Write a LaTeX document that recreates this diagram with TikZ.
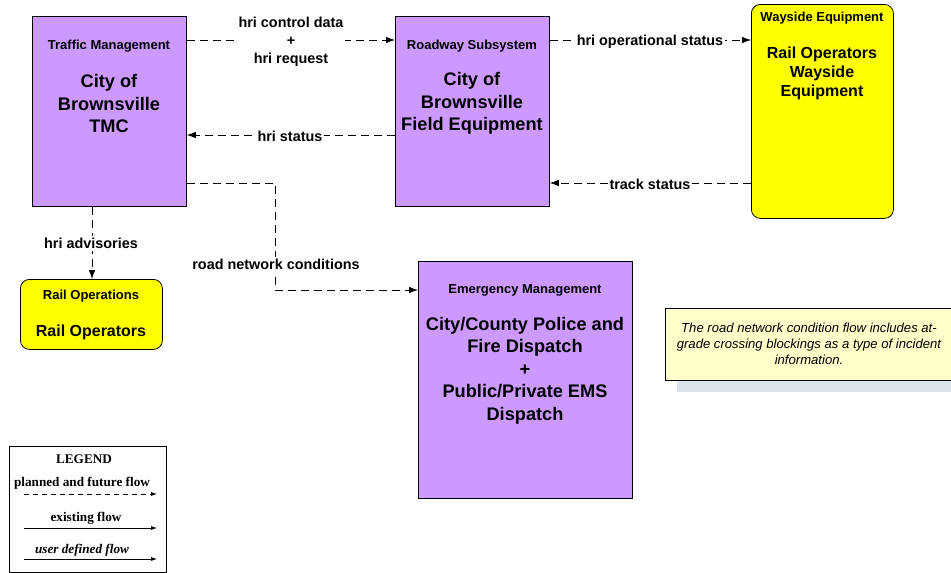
\documentclass[tikz,border=0pt]{standalone}
\usepackage{fontspec}
\setmainfont{Liberation Sans}
\newfontfamily\legendfont{Liberation Serif}
\usetikzlibrary{arrows.meta,calc}
\definecolor{boxpurple}{HTML}{CC99FF}
\definecolor{boxyellow}{HTML}{FFFF00}
\definecolor{notefill}{HTML}{FFFFCC}
\definecolor{noteshadow}{HTML}{DCE3EA}
\begin{document}
\begin{tikzpicture}[x=1pt,y=-1pt,
  sqbox/.style={draw=black, line width=0.8pt, fill=boxpurple, anchor=north west, inner sep=0pt},
  rbox/.style={draw=black, line width=0.8pt, fill=boxyellow, anchor=north west, inner sep=0pt, rounded corners=9pt},
  ttl/.style={font=\fontsize{13}{15}\selectfont\bfseries, inner sep=0pt, yshift=-1.5pt},
  bigtxt/.style={font=\fontsize{18.2}{22.5}\selectfont\bfseries, align=center, inner sep=0pt, yshift=-1.5pt},
  midtxt/.style={font=\fontsize{16}{19}\selectfont\bfseries, align=center, inner sep=0pt, yshift=-1.5pt},
  flowlbl/.style={font=\fontsize{14.4}{18}\selectfont\bfseries, fill=white, inner sep=2pt, align=center, yshift=-1.5pt},
  flow/.style={line width=0.8pt, dash pattern=on 8pt off 5pt, -{Latex[length=9pt,width=6.5pt]}},
  legtxt/.style={font=\legendfont\fontsize{13.2}{15}\selectfont\bfseries, inner sep=0pt},
  legarrow/.style={line width=0.7pt, -{Latex[length=6pt,width=4pt]}}
]
\useasboundingbox (0,0) rectangle (951,573);

% boxes
\node[sqbox, minimum width=154pt, minimum height=190pt] (tmc) at (32,16) {};
\node[sqbox, minimum width=154pt, minimum height=190pt] (rs) at (395,16) {};
\node[rbox, minimum width=142pt, minimum height=214pt] (ws) at (751,4) {};
\node[rbox, minimum width=142pt, minimum height=70pt] (ro) at (20,279) {};
\node[sqbox, minimum width=214pt, minimum height=237pt] (em) at (418,261) {};

% texts in boxes
\node[ttl] (tmcT) at (109,45) {Traffic Management};
\node[bigtxt] (tmcM) at (109,102) {City of\\Brownsville\\TMC};
\node[ttl] (rsT) at (472,45) {Roadway Subsystem};
\node[bigtxt] (rsM) at (472,102) {City of\\Brownsville\\Field Equipment};
\node[ttl] (wsT) at (822,17) {Wayside Equipment};
\node[midtxt] (wsM) at (822,72) {Rail Operators\\Wayside\\Equipment};
\node[ttl] (roT) at (91,295) {Rail Operations};
\node[midtxt] (roM) at (91,331) {Rail Operators};
\node[ttl] (emT) at (525,289) {Emergency Management};
\node[bigtxt] (emM) at (525,369) {City/County Police and\\Fire Dispatch\\+\\Public/Private EMS\\Dispatch};

% connectors
\coordinate (c1) at (275,183);
\coordinate (c2) at (275,290);
\draw[flow] (tmc.east |- 0,40) -- (rs.west |- 0,40);
\node[flowlbl] (l1) at (291,40) {hri control data\\+\\hri request};
\draw[flow] (rs.west |- 0,135) -- (tmc.east |- 0,135);
\node[flowlbl] (l2) at (290,135) {hri status};
\draw[flow] (rs.east |- 0,40) -- (ws.west |- 0,40);
\node[flowlbl] (l3) at (650,40) {hri operational status};
\draw[flow] (ws.west |- 0,183) -- (rs.east |- 0,183);
\node[flowlbl] (l4) at (650,183) {track status};
\draw[flow] (tmc.east |- c1) -- (c1) -- (c2) -- (em.west |- c2);
\node[flowlbl] (l5) at (276,263) {road network conditions};
\draw[flow] (tmc.south -| 92,0) -- (ro.north -| 92,0);
\node[flowlbl] (l6) at (91,242) {hri advisories};

% note
\fill[noteshadow] (677,380) rectangle (951,392);
\node[draw=black, line width=0.6pt, fill=notefill, anchor=north west, minimum width=286pt, minimum height=72pt, inner sep=0pt] (note) at (665,308) {};
\node[font=\fontsize{13.1}{16}\selectfont\itshape, align=center, inner sep=0pt, yshift=-1pt] (noteT) at (809,343) {The road network condition flow includes at-\\grade crossing blockings as a type of incident\\information.};

% legend
\node[draw=black, line width=0.8pt, fill=white, anchor=north west, minimum width=157pt, minimum height=126pt, inner sep=0pt] (leg) at (9,446) {};
\node[legtxt] (legT) at (84,459) {LEGEND};
\node[legtxt] (legA) at (82,483) {planned and future flow};
\coordinate (a1) at (24,494);
\coordinate (a2) at (157,494);
\draw[legarrow, dash pattern=on 5pt off 4pt] (a1) -- (a2);
\node[legtxt] (legB) at (86,518) {existing flow};
\coordinate (b1) at (24,528);
\coordinate (b2) at (157,528);
\draw[legarrow] (b1) -- (b2);
\node[legtxt, font=\legendfont\fontsize{13.2}{15}\selectfont\bfseries\itshape] (legC) at (82,550) {user defined flow};
\coordinate (d1) at (24,559);
\coordinate (d2) at (157,559);
\draw[legarrow] (d1) -- (d2);
\end{tikzpicture}
\end{document}
